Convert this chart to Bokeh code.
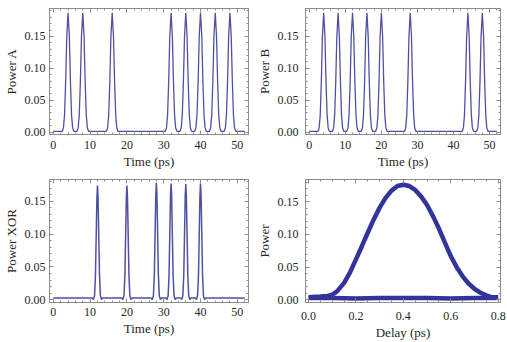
from bokeh.plotting import figure
from bokeh.layouts import column, row
from bokeh.models import (LinearAxis, FixedTicker, PrintfTickFormatter, Range1d,
                          CustomJSTickFormatter)
from bokeh.embed import file_html
from bokeh.resources import INLINE

# Bit slots (ps) that carry a pulse, with the pulse peak power
pulse_times_a = [4, 8, 16, 32, 36, 40, 44, 48]
pulse_peaks_a = [0.187, 0.187, 0.187, 0.187, 0.187, 0.187, 0.187, 0.187]
pulse_times_b = [4, 8, 12, 16, 20, 28, 44, 48]
pulse_peaks_b = [0.187, 0.187, 0.187, 0.187, 0.187, 0.187, 0.187, 0.187]
pulse_times_xor = [12, 20, 28, 32, 36, 40]
pulse_peaks_xor = [0.174, 0.174, 0.178, 0.177, 0.176, 0.177]

# Sampled pulse envelopes: offset from the pulse centre (ps) and relative height
input_pulse_offset = [-1.6, -1.25, -0.95, -0.65, -0.35, 0.0, 0.35, 0.65, 0.95, 1.25, 1.6]
input_pulse_shape = [0.0, 0.03, 0.14, 0.42, 0.80, 1.0, 0.80, 0.42, 0.14, 0.03, 0.0]
xor_pulse_offset = [-1.4, -1.1, -0.8, -0.55, -0.35, -0.15, 0.0, 0.15, 0.35, 0.55, 0.8, 1.1, 1.4]
xor_pulse_shape = [0.0, -0.015, 0.02, 0.2, 0.55, 0.9, 1.0, 0.9, 0.55, 0.2, 0.02, -0.015, 0.0]

input_floor = 0.001
xor_floor = 0.003
time_span = [0, 52]

# Delay scan of the output power: with the pulse present and with it absent
delay_ps = [0.0, 0.05, 0.08, 0.10, 0.12, 0.15, 0.175, 0.2, 0.225, 0.25, 0.275, 0.3,
            0.325, 0.35, 0.375, 0.4, 0.425, 0.45, 0.475, 0.5, 0.525, 0.55, 0.575,
            0.6, 0.625, 0.65, 0.675, 0.7, 0.725, 0.75, 0.775, 0.8]
delay_power_on = [0.004, 0.005, 0.006, 0.008, 0.013, 0.026, 0.042, 0.062, 0.082, 0.103,
                  0.123, 0.141, 0.156, 0.167, 0.174, 0.176, 0.174, 0.168, 0.158, 0.145,
                  0.128, 0.109, 0.088, 0.067, 0.050, 0.036, 0.025, 0.017, 0.011, 0.007,
                  0.004, 0.004]
delay_off_ps = [0.0, 0.1, 0.2, 0.3, 0.4, 0.5, 0.6, 0.7, 0.8]
delay_power_off = [0.003, 0.003, 0.002, 0.003, 0.003, 0.003, 0.002, 0.003, 0.003]

time_ticks = [0, 10, 20, 30, 40, 50]
time_minor = [2 * i for i in range(27)]
power_ticks = [0.0, 0.05, 0.10, 0.15]
power_minor = [0.01 * i for i in range(20)]
delay_ticks = [0.0, 0.2, 0.4, 0.6, 0.8]
delay_minor = [0.05 * i for i in range(17)]

LINE = "#3d3d99"
FRAME = "#8c8c8c"
TEXT = "#262626"
FONT = "Liberation Serif"


def pulse_trace(centres, peaks, offsets, shape, floor):
    t = [time_span[0]]
    p = [floor]
    for c, h in zip(centres, peaks):
        for o, s in zip(offsets, shape):
            t.append(c + o)
            p.append(floor + (h - floor) * s)
    t.append(time_span[1])
    p.append(floor)
    return t, p


def mirror_axis(ticks, minor):
    # tick marks only, on the opposite side of the frame
    return LinearAxis(ticker=FixedTicker(ticks=ticks, minor_ticks=minor),
                      formatter=CustomJSTickFormatter(code="return ''"),
                      major_label_standoff=0)


def panel(width, height, borders, x_range, y_range, xticks, xminor, yticks, yminor,
          xfmt, yfmt, xlabel, ylabel, x_standoff, y_standoff):
    left, top, right, bottom = borders
    p = figure(width=width, height=height, output_backend="svg", toolbar_location=None,
               x_range=Range1d(*x_range), y_range=Range1d(*y_range),
               min_border_left=left, min_border_top=top,
               min_border_right=right, min_border_bottom=bottom,
               x_axis_label=xlabel, y_axis_label=ylabel)
    p.xgrid.visible = False
    p.ygrid.visible = False
    p.outline_line_color = FRAME
    p.background_fill_color = "white"
    p.border_fill_color = "white"

    p.xaxis.ticker = FixedTicker(ticks=xticks, minor_ticks=xminor)
    p.yaxis.ticker = FixedTicker(ticks=yticks, minor_ticks=yminor)
    p.xaxis.formatter = PrintfTickFormatter(format=xfmt)
    p.yaxis.formatter = PrintfTickFormatter(format=yfmt)
    p.xaxis.major_label_standoff = x_standoff
    p.yaxis.major_label_standoff = y_standoff
    p.xaxis.axis_label_standoff = 2
    p.yaxis.axis_label_standoff = 3

    p.add_layout(mirror_axis(xticks, xminor), "above")
    p.add_layout(mirror_axis(yticks, yminor), "right")

    for ax in p.axis:
        ax.axis_line_color = FRAME
        ax.major_tick_line_color = FRAME
        ax.minor_tick_line_color = FRAME
        ax.major_tick_in = 4
        ax.major_tick_out = 0
        ax.minor_tick_in = 2
        ax.minor_tick_out = 0
        ax.major_label_text_font = FONT
        ax.major_label_text_color = TEXT
        ax.major_label_text_font_size = "12px"
        ax.axis_label_text_font = FONT
        ax.axis_label_text_font_style = "normal"
        ax.axis_label_text_font_size = "13px"
        ax.axis_label_text_color = TEXT
    return p


time_range = (-1.04, 53.04)

p1 = panel(253, 171, (42, 8, 5, 37), time_range, (-0.0038, 0.1938),
           time_ticks, time_minor, power_ticks, power_minor, "%d", "%.2f",
           "Time (ps)", "Power A", 6, 4)
ta, pa = pulse_trace(pulse_times_a, pulse_peaks_a, input_pulse_offset, input_pulse_shape, input_floor)
p1.line(ta, pa, line_color=LINE, line_width=1.3, line_alpha=0.9)

p2 = panel(254, 171, (44, 7, 7, 36), time_range, (-0.0038, 0.1938),
           time_ticks, time_minor, power_ticks, power_minor, "%d", "%.2f",
           "Time (ps)", "Power B", 6, 7)
tb, pb = pulse_trace(pulse_times_b, pulse_peaks_b, input_pulse_offset, input_pulse_shape, input_floor)
p2.line(tb, pb, line_color=LINE, line_width=1.3, line_alpha=0.9)

p3 = panel(253, 171, (42, 8, 5, 37), time_range, (-0.004, 0.183),
           time_ticks, time_minor, power_ticks, power_minor, "%d", "%.2f",
           "Time (ps)", "Power XOR", 5, 4)
tx, px = pulse_trace(pulse_times_xor, pulse_peaks_xor, xor_pulse_offset, xor_pulse_shape, xor_floor)
p3.line(tx, px, line_color=LINE, line_width=1.5, line_alpha=0.9)

p4 = panel(254, 171, (44, 7, 7, 38), (-0.013, 0.81), (-0.004, 0.184),
           delay_ticks, delay_minor, power_ticks, power_minor, "%.1f", "%.2f",
           "Delay (ps)", "Power", 9, 7)
p4.line(delay_off_ps, delay_power_off, line_color="#33339c", line_width=4.5)
p4.line(delay_ps, delay_power_on, line_color="#33339c", line_width=4.5)

layout = column(row(p1, p2), row(p3, p4))
open("out.html", "w").write(file_html(layout, INLINE))
